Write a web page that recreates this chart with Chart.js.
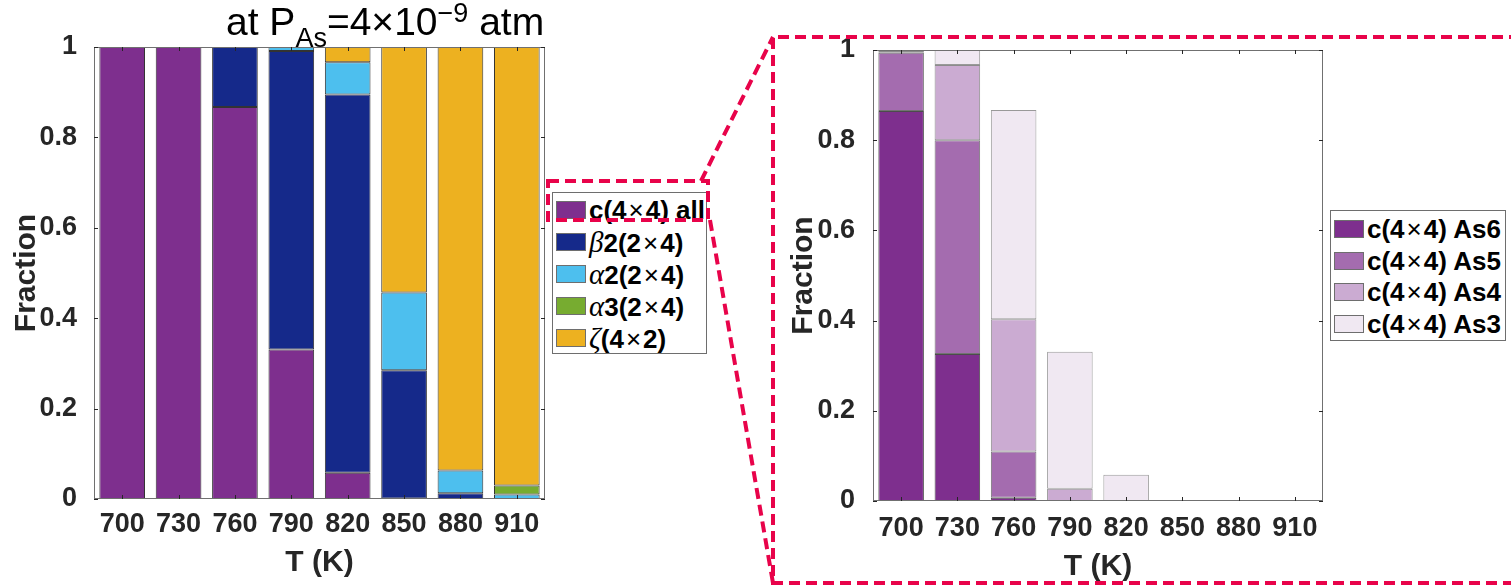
<!DOCTYPE html>
<html>
<head>
<meta charset="utf-8">
<script src="https://cdn.jsdelivr.net/npm/chart.js@4.4.1/dist/chart.umd.min.js"></script>
<style>
  html, body { margin: 0; padding: 0; background: #fff; }
  body { width: 1511px; height: 585px; position: relative; overflow: hidden;
         font-family: 'Liberation Sans', Arial, Helvetica, sans-serif; }
  .wrap { position: absolute; top: 0; height: 585px; }
  .title { position: absolute; left: 226px; top: 2px; font-size: 39px; color: #000;
           white-space: nowrap; line-height: 39px; }
  .title .sub { font-size: 27px; position: relative; top: 12px; }
  .title .sup { font-size: 27px; position: relative; top: -13px; }
  .legend { position: absolute; background: #fff; border: 1px solid #6e6e6e; box-sizing: border-box; }
  .legend .item { position: absolute; left: 3px; height: 30px; white-space: nowrap; }
  .legend .sw { position: absolute; left: 0; top: 6px; width: 30px; height: 18px;
                box-sizing: border-box; border: 1px solid #6e6e6e; }
  .legend .tx { position: absolute; left: 33px; top: 0; font-size: 26px; line-height: 30px;
                font-weight: bold; color: #000; }
  .legend .gk { font-family: 'Liberation Serif', 'Times New Roman', serif; font-style: italic;
                font-weight: normal; font-size: 29px; }
  .legend .x { font-weight: normal; margin: 0 2px; }
  svg { position: absolute; left: 0; top: 0; pointer-events: none; }
</style>
</head>
<body>
<div class="wrap" style="left:0; width:560px;"><canvas id="left"></canvas></div>
<div class="wrap" style="left:775px; width:560px;"><canvas id="right"></canvas></div>
<div class="title">at P<span class="sub">As</span>=4×10<span class="sup">−9</span> atm</div>
<div class="legend" id="legLeft" style="left:552px; top:192px; width:155px; height:162px;"></div>
<div class="legend" id="legRight" style="left:1330px; top:210px; width:176px; height:131px;"></div>
<svg width="1511" height="585">
  <g fill="none" stroke="#e8034a" stroke-width="4" stroke-dasharray="11 6">
    <rect x="548" y="181" width="160" height="39"/>
    <line x1="701" y1="181" x2="773" y2="37"/>
    <line x1="710" y1="220" x2="773" y2="583"/>
    <polyline points="1520,37 773,37 773,583 1520,583"/>
  </g>
</svg>
<script>
// Temperatures (K) on the category axis
const temps = ['700', '730', '760', '790', '820', '850', '880', '910'];
const fractionTicks = [0, 0.2, 0.4, 0.6, 0.8, 1];
const fractionTickLabels = ['0', '0.2', '0.4', '0.6', '0.8', '1'];

// Surface reconstruction fractions at each temperature
const c44All = [1.000, 1.000, 0.867, 0.331, 0.058, 0.001, 0.000, 0.000];
const beta2  = [0.000, 0.000, 0.133, 0.660, 0.837, 0.284, 0.0125, 0.000];
const alpha2 = [0.000, 0.000, 0.000, 0.009, 0.071, 0.172, 0.0505, 0.010];
const alpha3 = [0.000, 0.000, 0.000, 0.000, 0.000, 0.000, 0.000, 0.020];
const zeta   = [0.000, 0.000, 0.000, 0.000, 0.034, 0.543, 0.937, 0.970];

// c(4x4) split by number of As dimers
const as6 = [0.865, 0.326, 0.007, 0.000, 0.000, 0.000, 0.000, 0.000];
const as5 = [0.129, 0.474, 0.103, 0.000, 0.000, 0.000, 0.000, 0.000];
const as4 = [0.004, 0.167, 0.293, 0.027, 0.000, 0.000, 0.000, 0.000];
const as3 = [0.002, 0.033, 0.464, 0.304, 0.058, 0.001, 0.000, 0.000];

const FONT = "'Liberation Sans', Arial, Helvetica, sans-serif";
const INK = '#262626';
const TIMES = '<span class="x">×</span>';

const leftSeries = [
  { html: 'c(4' + TIMES + '4) all', data: c44All, color: '#7e2f8e', edge: 'rgba(0,0,0,0.8)' },
  { html: '<span class="gk">β</span>2(2' + TIMES + '4)', data: beta2, color: '#15298a', edge: 'rgba(0,0,0,0.8)' },
  { html: '<span class="gk">α</span>2(2' + TIMES + '4)', data: alpha2, color: '#4dbfee', edge: 'rgba(0,0,0,0.8)' },
  { html: '<span class="gk">α</span>3(2' + TIMES + '4)', data: alpha3, color: '#77ac30', edge: 'rgba(0,0,0,0.8)' },
  { html: '<span class="gk">ζ</span>(4' + TIMES + '2)', data: zeta, color: '#edb120', edge: 'rgba(0,0,0,0.8)' }
];
const rightSeries = [
  { html: 'c(4' + TIMES + '4) As6', data: as6, color: '#7e2f8e', edge: 'rgba(0,0,0,0.7)' },
  { html: 'c(4' + TIMES + '4) As5', data: as5, color: '#a46caf', edge: 'rgba(0,0,0,0.55)' },
  { html: 'c(4' + TIMES + '4) As4', data: as4, color: '#cbabd2', edge: 'rgba(0,0,0,0.45)' },
  { html: 'c(4' + TIMES + '4) As3', data: as3, color: '#f0e8f2', edge: 'rgba(0,0,0,0.4)' }
];

// Box around the axes with inward tick marks on all four sides
const framePlugin = {
  id: 'frame',
  afterDatasetsDraw(chart) {
    const { ctx, chartArea: a, scales: { x, y } } = chart;
    ctx.save();
    ctx.lineWidth = 1;
    ctx.strokeStyle = '#707070';
    ctx.strokeRect(a.left + 0.5, a.top + 0.5, a.right - a.left - 1, a.bottom - a.top - 1);
    ctx.strokeStyle = INK;
    ctx.beginPath();
    y.ticks.forEach((t, i) => {
      const py = Math.round(y.getPixelForTick(i)) + 0.5;
      ctx.moveTo(a.left, py); ctx.lineTo(a.left + 4, py);
      ctx.moveTo(a.right, py); ctx.lineTo(a.right - 4, py);
    });
    x.ticks.forEach((t, i) => {
      const px = Math.round(x.getPixelForTick(i)) + 0.5;
      ctx.moveTo(px, a.bottom); ctx.lineTo(px, a.bottom - 4);
      ctx.moveTo(px, a.top); ctx.lineTo(px, a.top + 4);
    });
    ctx.stroke();
    ctx.restore();
  }
};

function makeChart(id, series, geom) {
  return new Chart(document.getElementById(id), {
    type: 'bar',
    data: {
      labels: temps,
      datasets: series.map(s => ({
        data: s.data,
        backgroundColor: s.color,
        borderColor: s.edge,
        borderWidth: 1,
        borderSkipped: false,
        barPercentage: 0.81,
        categoryPercentage: 1.0
      }))
    },
    options: {
      responsive: true,
      maintainAspectRatio: false,
      animation: false,
      layout: { padding: { top: geom.top, right: geom.right, left: 0, bottom: 0 } },
      plugins: { legend: { display: false }, tooltip: { enabled: false } },
      scales: {
        x: {
          stacked: true,
          grid: { display: false },
          border: { display: false },
          ticks: { color: INK, padding: geom.xPad, font: { family: FONT, size: 27, weight: 'bold' } },
          title: { display: true, text: 'T (K)', color: INK, padding: { top: 0, bottom: geom.xTitlePad },
                   font: { family: FONT, size: 30, weight: 'bold' } },
          afterFit: s => { s.height = geom.xH; }
        },
        y: {
          stacked: true,
          min: 0, max: 1,
          afterBuildTicks: s => { s.ticks = fractionTicks.map(v => ({ value: v })); },
          grid: { display: false },
          border: { display: false },
          ticks: {
            color: INK, padding: geom.yPad, font: { family: FONT, size: 27, weight: 'bold' },
            callback: v => fractionTickLabels[fractionTicks.indexOf(v)]
          },
          title: { display: true, text: 'Fraction', color: INK, padding: { top: geom.yTitlePad, bottom: 0 },
                   font: { family: FONT, size: 30, weight: 'bold' } },
          afterFit: s => { s.width = geom.yW; }
        }
      }
    },
    plugins: [framePlugin]
  });
}

makeChart('left', leftSeries, { top: 47, right: 15, xH: 86, yW: 94, xPad: 1, xTitlePad: 4, yPad: 9, yTitlePad: 9 });
makeChart('right', rightSeries, { top: 50, right: 12, xH: 84, yW: 98, xPad: 3, xTitlePad: 0, yPad: 10, yTitlePad: 11 });

function buildLegend(id, series, first, step) {
  const box = document.getElementById(id);
  series.forEach((s, i) => {
    const item = document.createElement('div');
    item.className = 'item';
    item.style.top = (first + i * step) + 'px';
    item.innerHTML = '<div class="sw" style="background:' + s.color + '"></div><div class="tx">' + s.html + '</div>';
    box.appendChild(item);
  });
}
buildLegend('legLeft', leftSeries, 2, 32);
buildLegend('legRight', rightSeries, 3, 31.5);
</script>
</body>
</html>
